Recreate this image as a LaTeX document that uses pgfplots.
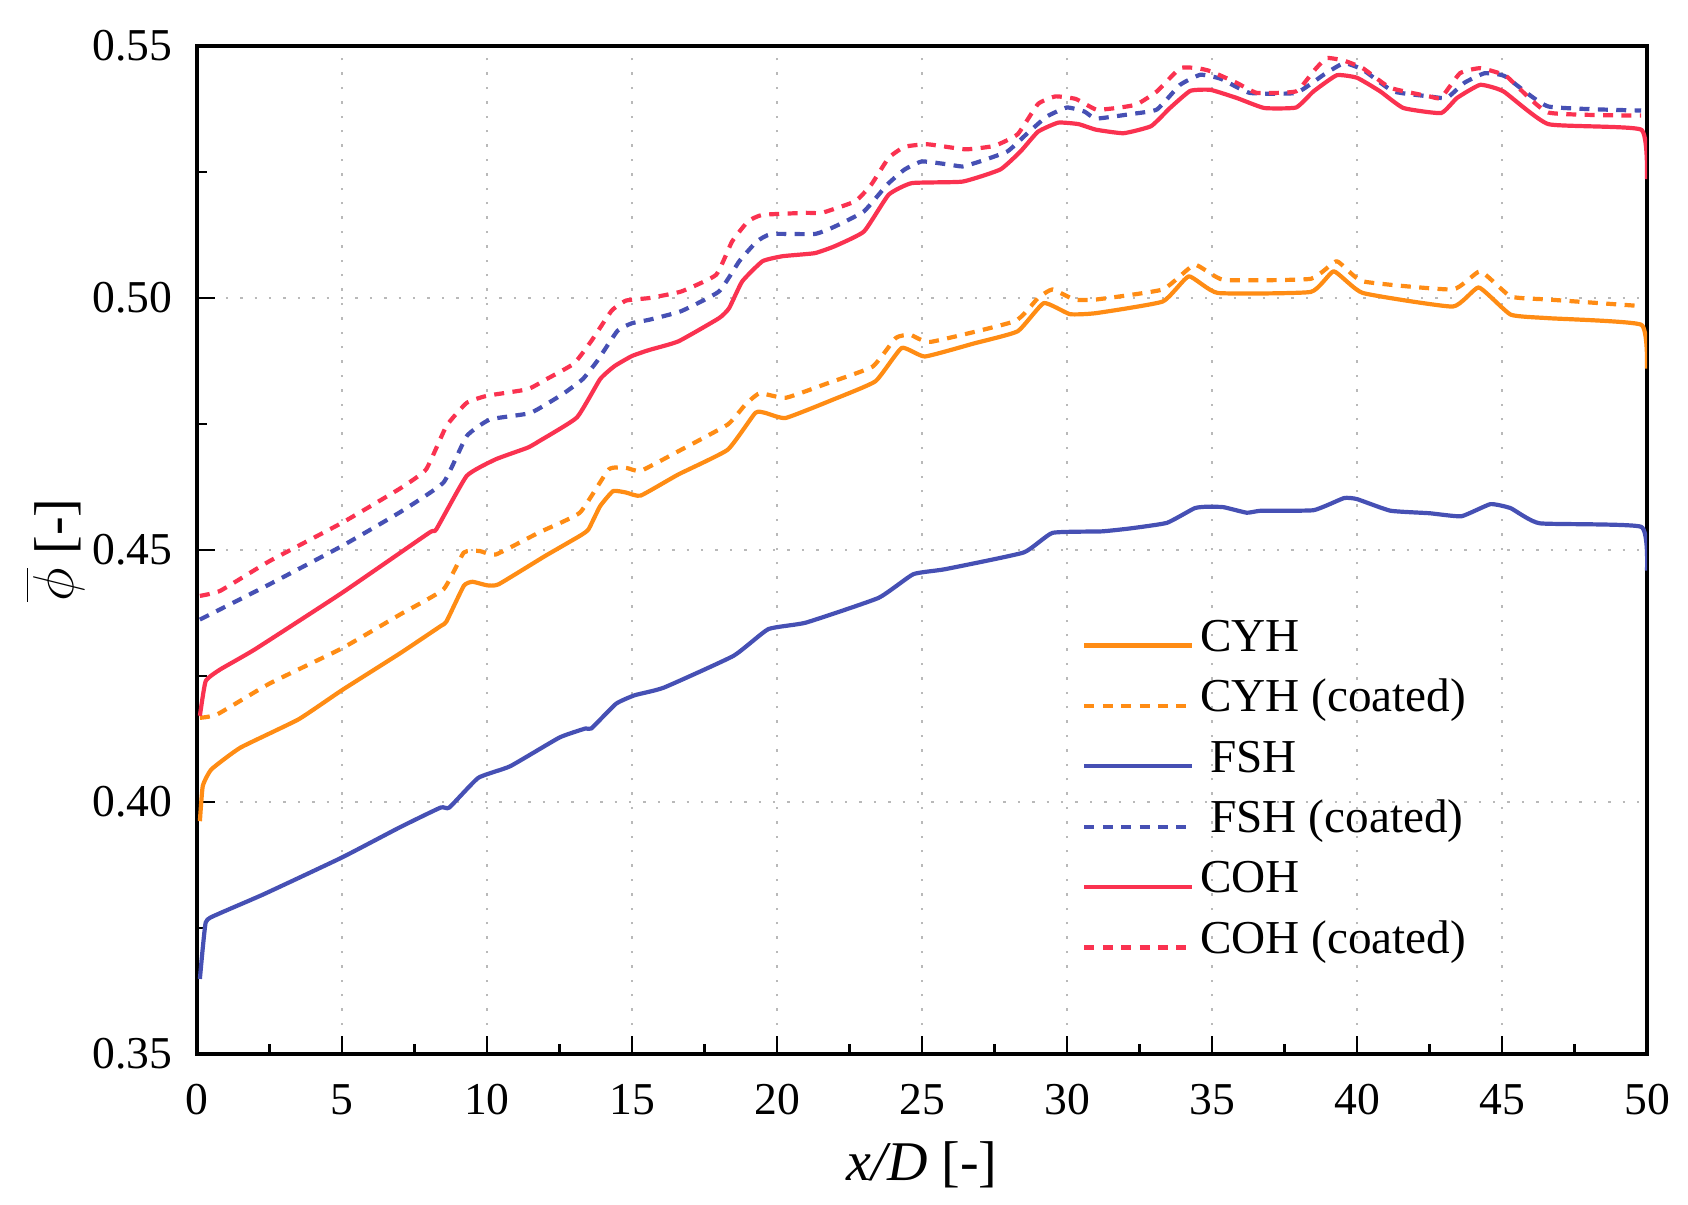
\documentclass[border=0pt]{standalone}
\usepackage{pgfplots}
\pgfplotsset{compat=1.18}
\usepackage{fontspec}
\setmainfont{Liberation Serif}
\definecolor{cyh}{RGB}{255,140,20}
\definecolor{fsh}{RGB}{70,80,180}
\definecolor{coh}{RGB}{250,50,80}
\begin{document}
\begin{tikzpicture}
\begin{axis}[
  scale only axis, width=362.5pt, height=252pt,
  at={(0,0)}, anchor=south west,
  xmin=0, xmax=50, ymin=0.35, ymax=0.55,
  xtick={0,5,...,50}, ytick={0.35,0.40,0.45,0.50,0.55},
  minor x tick num=1, minor y tick num=1,
  tick pos=left, tick align=inside,
  major tick length=4.6pt, minor tick length=2.4pt,
  every tick/.style={black, line width=0.7pt},
  axis line style={black, line width=0.9pt},
  grid=major,
  major grid style={gray!55, line width=0.6pt, dash pattern=on 0.6pt off 3pt},
  /pgf/number format/assume math mode=true,
  ticklabel style={font=\fontsize{11.4}{13}\selectfont},
  xticklabel style={anchor=base, yshift=-15pt, inner sep=0pt},
  yticklabel style={anchor=east, xshift=-6pt, inner sep=0pt,
    /pgf/number format/fixed, /pgf/number format/fixed zerofill, /pgf/number format/precision=2},
  xlabel={\textit{x/D} [-]},
  ylabel={$\overline{\phi}$ [-]},
  label style={font=\fontsize{14}{16}\selectfont},
  x label style={at={(axis description cs:0.5,0)}, anchor=base, yshift=-31.5pt},
  y label style={at={(axis description cs:-0.098,0.5)}, anchor=center, rotate=0},
  legend cell align=left,
  legend style={draw=none, fill=none, inner sep=0pt, row sep=0pt,
    font=\fontsize{11.8}{13}\selectfont,
    at={(axis description cs:0.610,0.4361)}, anchor=north west,
    nodes={inner xsep=1.4pt, inner ysep=0pt, text height=9pt, text depth=6.1pt}},
  legend image code/.code={\draw[#1] (0pt,0pt) -- (27pt,0pt);},
  every axis plot/.append style={line width=1.05pt, line join=round, smooth, tension=0.25},
]
\addplot[cyh] coordinates {
(0.1,0.3962)(0.2,0.4032)(0.5,0.4065)(1.5,0.4108)(3.5,0.4164)(5.0,0.4222)(7.0,0.4295)
(8.4,0.4349)(8.6,0.4358)(9.2,0.4429)(9.5,0.4437)(10.0,0.4430)(10.4,0.4432)(12.0,0.4488)
(13.2,0.4528)(13.5,0.4541)(13.9,0.4587)(14.35,0.4617)(14.8,0.4614)(15.3,0.4608)(16.6,0.4650)
(18.3,0.4699)(19.25,0.4772)(19.6,0.4772)(20.3,0.4762)(22.0,0.4800)(23.4,0.4835)(24.3,0.4901)
(25.1,0.4884)(26.8,0.4910)(28.3,0.4934)(29.2,0.4990)(30.1,0.4968)(31.0,0.4970)(33.3,0.4993)
(34.2,0.5043)(35.2,0.5010)(38.4,0.5012)(39.2,0.5053)(40.2,0.5010)(43.3,0.4983)(44.2,0.5021)
(45.3,0.4967)(46.6,0.4960)(49.8,0.4947)(50.0,0.4860)};
\addlegendentry{CYH}
\addplot[cyh, dash pattern=on 2.5pt off 2.1pt] coordinates {
(0.1,0.4167)(0.7,0.4174)(2.5,0.4235)(5.0,0.4305)(7.0,0.4372)(8.5,0.4422)(9.2,0.4495)
(9.75,0.4498)(10.3,0.4491)(11.8,0.4535)(13.2,0.4574)(14.2,0.4660)(14.8,0.4663)(15.3,0.4657)
(16.6,0.4696)(18.3,0.4749)(18.9,0.4788)(19.4,0.4811)(20.3,0.4802)(21.8,0.4832)(23.3,0.4864)
(24.1,0.4921)(24.6,0.4927)(25.3,0.4913)(28.2,0.4954)(29.0,0.5000)(29.5,0.5017)(30.25,0.4997)
(31.0,0.4997)(33.3,0.5017)(34.4,0.5066)(35.4,0.5036)(38.4,0.5038)(39.3,0.5073)(40.2,0.5033)
(43.3,0.5017)(44.25,0.5053)(45.3,0.5003)(46.6,0.4997)(49.8,0.4984)};
\addlegendentry{CYH (coated)}
\addplot[fsh] coordinates {
(0.1,0.3649)(0.3,0.3761)(0.7,0.3777)(2.3,0.3817)(5.0,0.3890)(7.0,0.3950)(8.4,0.3989)
(8.7,0.3989)(9.7,0.4048)(10.8,0.4071)(12.5,0.4128)(13.4,0.4146)(13.6,0.4146)(14.45,0.4195)
(15.1,0.4212)(16.1,0.4227)(18.5,0.4290)(19.7,0.4343)(21.0,0.4356)(23.5,0.4405)(24.7,0.4452)
(25.8,0.4462)(28.5,0.4495)(29.5,0.4534)(31.2,0.4537)(32.2,0.4543)(33.45,0.4554)(34.4,0.4583)
(34.85,0.4586)(35.4,0.4585)(36.2,0.4574)(36.7,0.4578)(38.5,0.4579)(39.55,0.4603)(40.0,0.4601)
(41.15,0.4578)(42.5,0.4573)(43.6,0.4567)(44.6,0.4591)(45.3,0.4583)(46.3,0.4553)(49.8,0.4546)
(50.0,0.4459)};
\addlegendentry{\hspace{2.6pt}FSH}
\addplot[fsh, dash pattern=on 2.5pt off 2.1pt] coordinates {
(0.1,0.4362)(2.5,0.4432)(5.0,0.4508)(7.0,0.4575)(8.5,0.4634)(9.3,0.4726)(10.1,0.4759)
(11.5,0.4772)(12.6,0.4809)(13.3,0.4839)(13.8,0.4875)(14.5,0.4935)(15.0,0.4950)(15.6,0.4957)
(16.7,0.4974)(18.0,0.5013)(18.7,0.5073)(19.3,0.5112)(19.8,0.5127)(21.3,0.5127)(22.0,0.5142)
(23.0,0.5172)(23.8,0.5225)(24.4,0.5255)(25.0,0.5271)(25.9,0.5265)(26.4,0.5261)(27.0,0.5271)
(27.95,0.5291)(28.6,0.5325)(29.3,0.5360)(30.0,0.5378)(30.6,0.5370)(31.0,0.5356)(32.2,0.5365)
(33.1,0.5374)(33.9,0.5423)(34.6,0.5443)(35.3,0.5435)(36.3,0.5407)(37.9,0.5407)(38.85,0.5443)
(39.55,0.5466)(40.2,0.5453)(41.25,0.5410)(42.5,0.5400)(43.1,0.5397)(43.7,0.5427)(44.4,0.5446)
(45.1,0.5440)(46.6,0.5380)(49.8,0.5372)};
\addlegendentry{\hspace{2.6pt}FSH (coated)}
\addplot[coh] coordinates {
(0.1,0.4171)(0.3,0.4240)(0.8,0.4263)(2.0,0.4303)(5.0,0.4415)(8.0,0.4534)(8.25,0.4541)
(9.3,0.4647)(10.3,0.4680)(11.4,0.4703)(11.8,0.4716)(13.1,0.4763)(13.9,0.4839)(14.4,0.4865)
(15.0,0.4885)(15.6,0.4897)(16.6,0.4914)(18.0,0.4960)(18.35,0.4980)(18.8,0.5033)(19.5,0.5073)
(20.2,0.5083)(21.3,0.5089)(22.0,0.5103)(23.0,0.5132)(23.85,0.5205)(24.65,0.5228)(26.4,0.5231)
(27.7,0.5255)(28.4,0.5291)(29.0,0.5330)(29.7,0.5348)(30.4,0.5345)(31.0,0.5334)(31.95,0.5327)
(32.9,0.5341)(33.55,0.5377)(34.25,0.5411)(34.95,0.5413)(35.85,0.5397)(36.8,0.5377)(37.9,0.5378)
(38.5,0.5410)(39.3,0.5442)(40.0,0.5437)(40.8,0.5410)(41.6,0.5377)(42.9,0.5367)(43.45,0.5397)
(44.25,0.5423)(45.05,0.5410)(46.6,0.5345)(49.8,0.5334)(50.0,0.5236)};
\addlegendentry{COH}
\addplot[coh, dash pattern=on 2.5pt off 2.1pt] coordinates {
(0.1,0.4409)(0.8,0.4419)(2.5,0.4478)(5.0,0.4554)(7.0,0.4622)(7.9,0.4660)(8.6,0.4746)
(9.3,0.4792)(10.0,0.4806)(11.4,0.4819)(12.05,0.4839)(13.0,0.4870)(13.6,0.4915)(14.3,0.4975)
(14.8,0.4995)(15.6,0.5000)(16.7,0.5013)(17.9,0.5046)(18.45,0.5112)(19.0,0.5152)(19.5,0.5165)
(21.0,0.5169)(21.55,0.5169)(22.7,0.5192)(23.25,0.5225)(23.85,0.5278)(24.4,0.5300)(25.2,0.5305)
(26.5,0.5295)(27.5,0.5302)(28.3,0.5325)(29.0,0.5385)(29.6,0.5400)(30.3,0.5395)(31.0,0.5374)
(31.7,0.5377)(32.4,0.5384)(33.1,0.5410)(33.9,0.5456)(34.5,0.5456)(34.95,0.5450)(35.85,0.5427)
(36.55,0.5407)(37.9,0.5410)(38.5,0.5450)(38.95,0.5476)(39.55,0.5471)(40.2,0.5456)(41.15,0.5417)
(42.5,0.5400)(42.9,0.5397)(43.55,0.5446)(44.25,0.5456)(45.15,0.5440)(46.6,0.5368)(49.8,0.5362)};
\addlegendentry{COH (coated)}
\end{axis}
\pgfresetboundingbox
\path[use as bounding box] (-49.25pt,-37.5pt) rectangle (372.75pt,263.5pt);
\end{tikzpicture}
\end{document}
